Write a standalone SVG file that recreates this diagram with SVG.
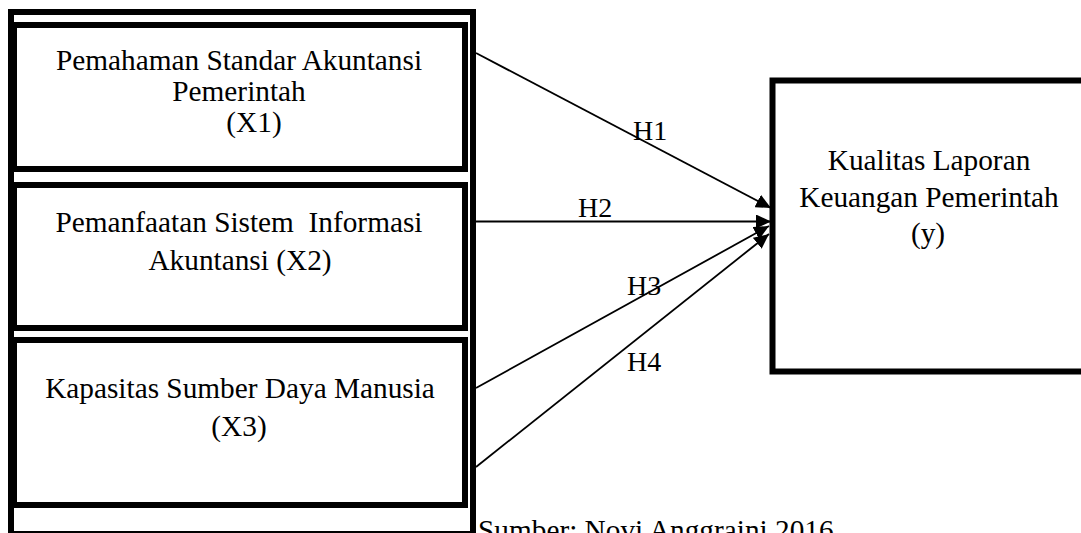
<svg xmlns="http://www.w3.org/2000/svg" width="1081" height="533" viewBox="0 0 1081 533">
<style>
.box{fill:none;stroke:#000;stroke-width:6}
.t{font-family:"Liberation Serif","Times New Roman",serif;font-size:29.3px;fill:#000}
.c{text-anchor:middle}
.lbl{font-family:"Liberation Serif","Times New Roman",serif;font-size:28px;fill:#000}
.edge{stroke:#000;stroke-width:1.8;fill:none;marker-end:url(#ah)}
</style>
<defs>
<marker id="ah" markerUnits="userSpaceOnUse" markerWidth="16" markerHeight="14" refX="15" refY="7" orient="auto">
<path d="M0,0 L15,7 L0,14 Z" fill="#000"/>
</marker>
</defs>
<rect width="1081" height="533" fill="#fff"/>
<g id="outer">
<rect class="box" x="11" y="12" width="462" height="522"/>
</g>
<g id="x1">
<rect class="box" x="14" y="25" width="451" height="144"/>
<text class="t c" x="239" y="70">Pemahaman Standar Akuntansi</text>
<text class="t c" x="239" y="101">Pemerintah</text>
<text class="t c" x="254" y="132">(X1)</text>
</g>
<g id="x2">
<rect class="box" x="14" y="185" width="451" height="143"/>
<text class="t c" x="239" y="232" xml:space="preserve">Pemanfaatan Sistem  Informasi</text>
<text class="t c" x="240" y="270">Akuntansi (X2)</text>
</g>
<g id="x3">
<rect class="box" x="14" y="340" width="451" height="165"/>
<text class="t c" x="240" y="398">Kapasitas Sumber Daya Manusia</text>
<text class="t c" x="239" y="436">(X3)</text>
</g>
<g id="y">
<rect class="box" x="772.5" y="80.5" width="320" height="291"/>
<text class="t c" x="929" y="170">Kualitas Laporan</text>
<text class="t c" x="929" y="207">Keuangan Pemerintah</text>
<text class="t c" x="928" y="243">(y)</text>
</g>
<g id="connectors">
<line class="edge" x1="476" y1="53" x2="771" y2="208"/>
<line class="edge" x1="476" y1="221.5" x2="771" y2="221.5"/>
<line class="edge" x1="476" y1="388" x2="769" y2="226"/>
<line class="edge" x1="476" y1="467" x2="769" y2="234"/>
<text class="lbl" x="633" y="140">H1</text>
<text class="lbl" x="578" y="217">H2</text>
<text class="lbl" x="627" y="295">H3</text>
<text class="lbl" x="627" y="371">H4</text>
</g>
<text id="source" class="t" x="478" y="540">Sumber:  Novi Anggraini 2016</text>
</svg>
